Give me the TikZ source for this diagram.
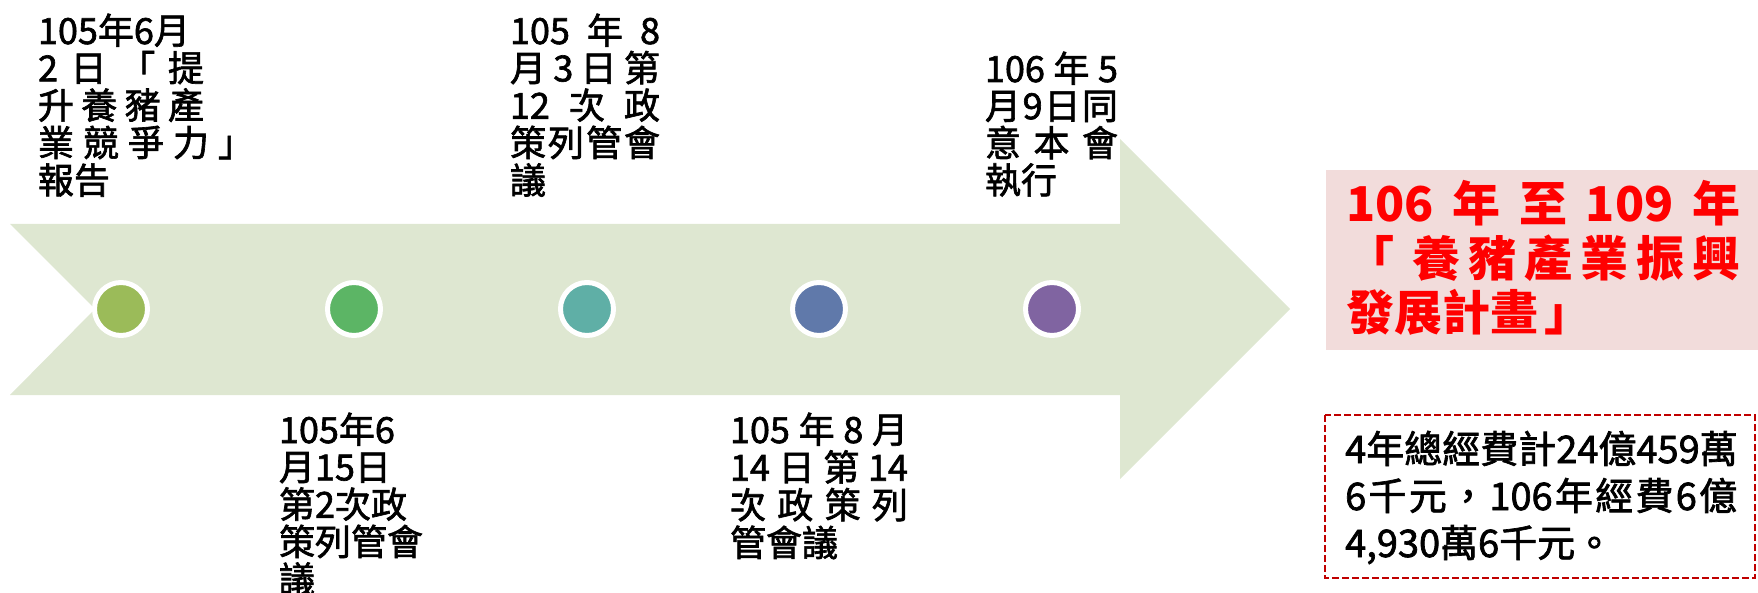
\documentclass[tikz,border=0pt]{standalone}
\usepackage{fontspec}
\setmainfont{Noto Sans CJK TC}
\newfontfamily\medfont[FakeBold=1.8]{Noto Sans CJK TC}
\definecolor{arrowfill}{HTML}{DEE7D1}
\definecolor{dotA}{HTML}{9BBB59}
\definecolor{dotB}{HTML}{5CB565}
\definecolor{dotC}{HTML}{5FAFA6}
\definecolor{dotD}{HTML}{6079AA}
\definecolor{dotE}{HTML}{8064A1}
\definecolor{pinkbg}{HTML}{F2DCDB}
\definecolor{titlered}{HTML}{FF0000}
\definecolor{dashred}{HTML}{C00000}
\newcommand{\blk}[2]{\vtop{\baselineskip=#1pt\lineskiplimit=-1000pt\lineskip=0pt #2}}
\newcommand{\jl}[2]{\hbox to #1pt{#2}}
\tikzset{
  dot/.style={circle, draw=white, line width=5pt, minimum size=53pt, inner sep=0pt},
  tl/.style={anchor=base west, inner sep=0pt, outer sep=0pt, font=\medfont\fontsize{36}{37.5}\selectfont},
}
\begin{document}
\begin{tikzpicture}[x=1pt,y=-1pt]
\useasboundingbox (0,0) rectangle (1758,593);
% arrow
\fill[arrowfill] (10,224) -- (1120,224) -- (1120,139) -- (1290,309) -- (1120,479)
  -- (1120,395) -- (10,395) -- (95,309) -- cycle;
% dots
\node[dot, fill=dotA] (d1) at (121,309) {};
\node[dot, fill=dotB] (d2) at (354,309) {};
\node[dot, fill=dotC] (d3) at (587,309) {};
\node[dot, fill=dotD] (d4) at (819,309) {};
\node[dot, fill=dotE] (d5) at (1052,309) {};
% top labels
\node[tl] (t1) at (38,44) {\blk{37.4}{
  \hbox{105年6月}
  \jl{166}{2\hfill 日\hfill 「\hfill 提}
  \jl{166}{升\hfill 養\hfill 豬\hfill 產}
  \jl{216}{業\hfill 競\hfill 爭\hfill 力\hfill 」}
  \hbox{報告}}};
\node[tl] (t2) at (510,44) {\blk{37.4}{
  \jl{150}{105\hfill 年\hfill 8}
  \jl{150}{月\hfill 3\hfill 日\hfill 第}
  \jl{150}{12\hfill 次\hfill 政}
  \jl{150}{策\hfill 列\hfill 管\hfill 會}
  \hbox{議}}};
\node[tl] (t3) at (985,82) {\blk{37.2}{
  \jl{133}{106\hfill 年\hfill 5}
  \jl{133}{月\hfill 9\hfill 日\hfill 同}
  \jl{133}{意\hfill 本\hfill 會}
  \hbox{執行}}};
% bottom labels
\node[tl] (b1) at (279,443) {\blk{37.4}{
  \hbox{105年6}
  \hbox{月15日}
  \hbox{第2次政}
  \hbox{策列管會}
  \hbox{議}}};
\node[tl] (b2) at (730,443) {\blk{37.7}{
  \jl{178}{105\hfill 年\hfill 8\hfill 月}
  \jl{178}{14\hfill 日\hfill 第\hfill 14}
  \jl{178}{次\hfill 政\hfill 策\hfill 列}
  \hbox{管會議}}};
% title box
\fill[pinkbg] (1326,170) rectangle (1758,350);
\node[anchor=base west, inner sep=0pt, text=titlered, font=\fontsize{48}{54}\selectfont\bfseries]
  (title) at (1346,222) {\blk{54.5}{
  \jl{394}{106\hfill 年\hfill 至\hfill 109\hfill 年}
  \jl{394}{「\hspace{10pt}\hfill 養\hfill 豬\hfill 產\hfill 業\hfill 振\hfill 興}
  \hbox{發展計畫\hspace{6pt}」}}};
% cost box
\draw[dashred, line width=2pt, dash pattern=on 7pt off 3pt] (1325,415) rectangle (1755,578);
\node[anchor=base west, inner sep=0pt, font=\medfont\fontsize{38}{47}\selectfont]
  (cost) at (1345,463) {\blk{47}{
  \hbox{4年總經費計24億459萬}
  \jl{392}{6\hfill 千\hfill 元\hfill ，\hfill 106\hfill 年\hfill 經\hfill 費\hfill 6\hfill 億}
  \hbox{4,930萬6千元。}}};
\end{tikzpicture}
\end{document}
